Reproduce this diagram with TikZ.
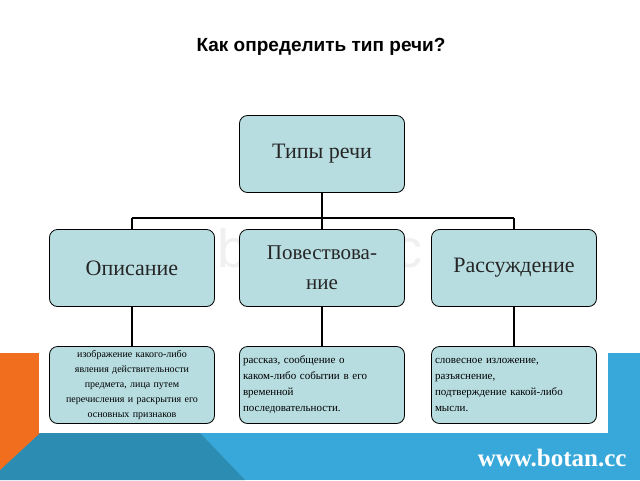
\documentclass[tikz,border=0pt]{standalone}
\usepackage{fontspec}
\setmainfont{Liberation Serif}
\newfontfamily\headfont{Liberation Sans}
\usetikzlibrary{positioning}
\definecolor{boxfill}{RGB}{183,221,224}
\definecolor{bandblue}{RGB}{56,168,218}
\definecolor{banddark}{RGB}{44,140,178}
\definecolor{bandorange}{RGB}{240,110,30}
\tikzset{
  typebox/.style={draw, thick, rounded corners=8pt, fill=boxfill, minimum width=165pt, minimum height=77pt, font=\fontsize{22}{24}\selectfont, text=black!85},
  notebox/.style={draw, thick, rounded corners=8pt, fill=boxfill, minimum width=165pt, minimum height=77pt, text width=158pt, font=\fontsize{11}{16}\selectfont},
  link/.style={line width=2.5pt}
}
\begin{document}
\begin{tikzpicture}[x=1pt,y=-1pt]
    \useasboundingbox (0,0) rectangle (640,480);
    \fill[white] (0,0) rectangle (640,480);
    % bottom banner
    \fill[bandblue] (0,353) rectangle (640,480);
    \fill[banddark] (0,433) -- (200,433) -- (245,480) -- (0,480) -- cycle;
    \fill[bandorange] (0,353) -- (40,353) -- (40,433) -- (0,470) -- cycle;
    \fill[white] (39,330) rectangle (608,433);

    \node[font=\headfont\bfseries\fontsize{19}{22}\selectfont] (title) at (321,47) {Как определить тип речи?};
    \node[font=\headfont\fontsize{54}{54}\selectfont, text=black!6] (mark) at (320,248) {botan.cc};

    \node[typebox] (types) at (322,154) {Типы речи};
    \node[typebox] (descr) at (132,268) {Описание};
    \node[typebox, align=center, font=\fontsize{21}{30}\selectfont] (narr) at (322,268) {Повествова-\\ние};
    \node[typebox] (reason) at (514,268) {Рассуждение};

    \node[notebox, align=center, font=\fontsize{10}{15}\selectfont] (descrnote) at (132,385) {изображение какого-либо\\явления действительности\\предмета, лица путем\\перечисления и раскрытия его\\основных признаков};
    \node[notebox, align=left] (narrnote) at (322,385) {рассказ, сообщение о\\каком-либо событии в его\\временной\\последовательности.};
    \node[notebox, align=left] (reasonnote) at (514,385) {словесное изложение,\\разъяснение,\\подтверждение какой-либо\\мысли.};

    \coordinate (fork) at (322,218);
    \draw[link] (types) -- (fork);
    \draw[link] (descr.north |- fork) -- (reason.north |- fork);
    \draw[link] (descr.north |- fork) -- (descr);
    \draw[link] (fork) -- (narr);
    \draw[link] (reason.north |- fork) -- (reason);

    \draw[link] (descr) -- (descrnote);
    \draw[link] (narr) -- (narrnote);
    \draw[link] (reason) -- (reasonnote);

    \node[font=\fontsize{25}{27}\selectfont\bfseries, text=white, anchor=east] (site) at (630,458) {www.botan.cc};
\end{tikzpicture}
\end{document}
